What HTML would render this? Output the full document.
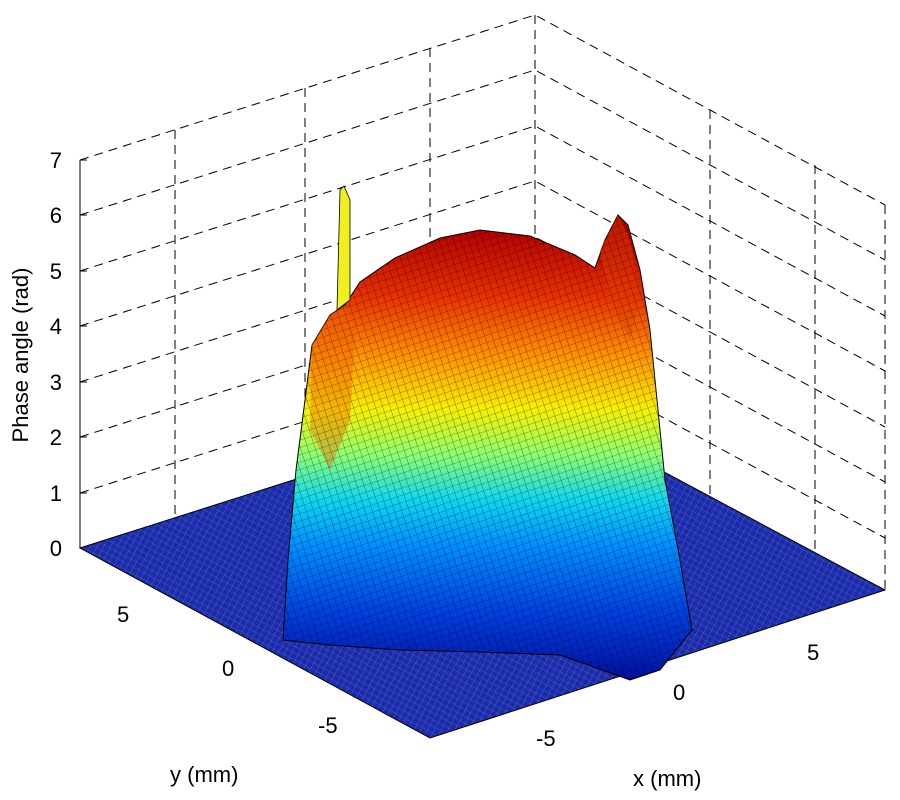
<!DOCTYPE html>
<html><head><meta charset="utf-8"><style>
body{margin:0;background:#fff}
svg{display:block}
text{font-family:"Liberation Sans",sans-serif;font-size:22px;fill:#000}
</style></head><body>
<svg width="900" height="800" viewBox="0 0 900 800">
<defs>
<linearGradient id="dome" x1="0" y1="680" x2="0" y2="228" gradientUnits="userSpaceOnUse">
<stop offset="0" stop-color="#0010a0"/>
<stop offset="0.15" stop-color="#0040e0"/>
<stop offset="0.3" stop-color="#0090ff"/>
<stop offset="0.4" stop-color="#10d8f0"/>
<stop offset="0.5" stop-color="#90ff70"/>
<stop offset="0.6" stop-color="#f8f000"/>
<stop offset="0.72" stop-color="#ff9000"/>
<stop offset="0.85" stop-color="#e83000"/>
<stop offset="1" stop-color="#b00000"/>
</linearGradient>
<pattern id="mesh" width="7" height="7" patternUnits="userSpaceOnUse" patternTransform="rotate(-18)">
<path d="M0 0H7M0 0V7" stroke="#000" stroke-width="0.6" opacity="0.8"/>
</pattern>
<pattern id="fmesh" width="6" height="6" patternUnits="userSpaceOnUse" patternTransform="rotate(28)">
<path d="M0 0H6M0 0V6" stroke="#6a78e0" stroke-width="0.6"/>
</pattern>
</defs>
<g stroke="#000" stroke-width="1" stroke-dasharray="9,6" fill="none">
<path d="M80 160L535 15L885 205"/>
<path d="M80 215L535 70L885 260"/>
<path d="M80 271L535 126L885 316"/>
<path d="M80 326L535 181L885 371"/>
<path d="M80 382L535 237L885 427"/>
<path d="M80 437L535 292L885 482"/>
<path d="M80 493L535 348L885 538"/>
<path d="M175 130V518M305 88V477M430 48V437M535 15V403M710 110V497M815 165V552M885 205V590"/>
</g>
<path d="M80 160V548" stroke="#000"/>
<g stroke="#000"><path d="M80 160h7M80 215h7M80 271h7M80 326h7M80 382h7M80 437h7M80 493h7M80 548h7"/></g>
<polygon points="80,548 535,403 885,590 430,738" fill="#1c2ca8"/>
<polygon points="80,548 535,403 885,590 430,738" fill="url(#fmesh)"/>
<polygon points="80,548 535,403 885,590 430,738" fill="none" stroke="#000"/>
<path d="M283 640L288 560L296 470L305 400L312 345L330 315L345 305L360 282L395 258L440 238L480 230L530 236L575 255L595 268L605 240L618 215L628 225L640 270L650 330L658 410L665 480L680 560L692 630L660 670L630 680L560 655L480 652L400 650L330 645Z" fill="url(#dome)" stroke="#000" stroke-width="1"/>
<path d="M312 345L330 315L345 305L355 330L350 420L330 470L310 430Z" fill="#f06000" opacity="0.4"/>
<path d="M600 250L618 215L630 240L640 300L630 340L610 300Z" fill="#e04000" opacity="0.4"/>
<path d="M283 640L288 560L296 470L305 400L312 345L330 315L345 305L360 282L395 258L440 238L480 230L530 236L575 255L595 268L605 240L618 215L628 225L640 270L650 330L658 410L665 480L680 560L692 630L660 670L630 680L560 655L480 652L400 650L330 645Z" fill="url(#mesh)"/>
<path d="M337 310L340 190L344 186L350 200L350 300Z" fill="#f0f020" stroke="#000" stroke-width="0.8"/>
<g text-anchor="end">
<text x="62" y="168">7</text><text x="62" y="223">6</text><text x="62" y="279">5</text>
<text x="62" y="334">4</text><text x="62" y="390">3</text><text x="62" y="445">2</text>
<text x="62" y="501">1</text><text x="62" y="556">0</text>
</g>
<text transform="translate(28,355) rotate(-90)" text-anchor="middle">Phase angle (rad)</text>
<text x="117" y="622">5</text><text x="222" y="676">0</text><text x="318" y="733">-5</text>
<text x="536" y="746">-5</text><text x="673" y="700">0</text><text x="807" y="660">5</text>
<text x="170" y="782">y (mm)</text><text x="633" y="786">x (mm)</text>
</svg>
</body></html>
